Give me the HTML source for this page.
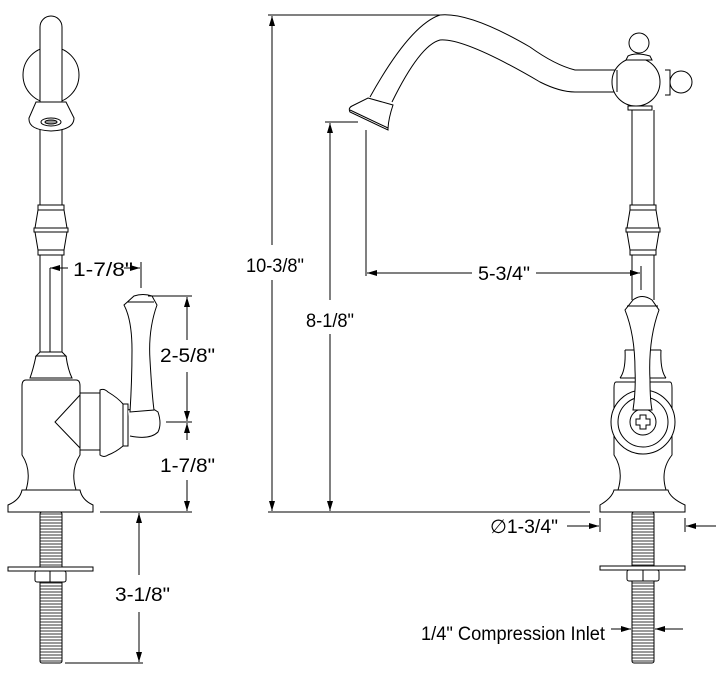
<!DOCTYPE html>
<html><head><meta charset="utf-8"><style>
html,body{margin:0;padding:0;background:#fff;}
svg{display:block}
text{font-family:"Liberation Sans",sans-serif;font-size:19px;fill:#000}
</style></head><body>
<svg width="719" height="676" viewBox="0 0 719 676" xmlns="http://www.w3.org/2000/svg">
<defs>
<marker id="a" viewBox="0 0 10 6" refX="10" refY="3" markerWidth="10" markerHeight="6" orient="auto-start-reverse" markerUnits="userSpaceOnUse"><path d="M0,0 L10,3 L0,6Z" fill="#000"/></marker>
<pattern id="thr" width="4" height="3" patternUnits="userSpaceOnUse"><line x1="0" y1="1" x2="4" y2="1" stroke="#000" stroke-width="0.8"/></pattern>
</defs>
<g fill="none" stroke="#000" stroke-width="1">
<!-- LEFT VIEW -->
<circle cx="51" cy="75" r="28" fill="#fff"/>
<path d="M40,205 V27 A11,11 0 0 1 62,27 V205" fill="#fff"/>
<path d="M36,102 L66,102 L74,118 Q74,130 51,131 Q28,130 29,118 Z" fill="#fff"/>
<ellipse cx="51" cy="122" rx="10" ry="4"/>
<ellipse cx="51" cy="122" rx="6" ry="2" fill="#999"/>
<path d="M38,205 H64 V210 H38Z M38,210 L35,228 H67 L64,210 M34,228 H68 V232 H34Z M35,232 L38,250 H64 L67,232 M38,250 H64 V255 H38Z"/>
<path d="M40,255 V352 M62,255 V352 M50,268 V352"/>
<path d="M40,352 H62 L66,356 H36 Z M36,356 Q33,370 30,378 H72 Q68,370 66,356"/>
<path d="M26,380 H76 Q80,380 80,386 V455 Q70,470 76,490 H26 Q32,470 22,455 V386 Q22,380 26,380Z" fill="#fff"/>
<path d="M80,395 L55,422 L80,448"/>
<path d="M80,393 H100 V450 H80 M100,390 Q104,388 108,392 Q118,398 123,404 V446 Q116,452 108,455 Q104,458 100,455 Z M123,404 H128 V446 H123"/>
<path d="M22,490 H80 Q82,500 93,505 V512 H8 V505 Q20,500 22,490Z" fill="#fff"/>
<path d="M128,410 Q150,405 158,412 Q162,424 158,432 Q150,440 130,436" fill="#fff"/>
<path d="M134,296 Q143,293 152,296 L157,305 Q148,330 150,360 Q152,395 154,410 L130,412 Q132,380 132,350 Q132,320 124,305 Z" fill="#fff"/>
<path d="M127,302 H154"/>
<rect x="40" y="512" width="22" height="151" rx="2" fill="url(#thr)"/>
<rect x="8" y="567" width="85" height="4" fill="#fff"/>
<rect x="35" y="571" width="31" height="11" rx="2" fill="#fff"/>
<path d="M50,571 V582"/>
</g>
<!-- LEFT DIMENSIONS -->
<g stroke="#000" stroke-width="1" fill="none">
<line x1="68" y1="268" x2="50" y2="268" marker-end="url(#a)"/>
<line x1="124" y1="268" x2="140" y2="268" marker-end="url(#a)"/>
<line x1="141" y1="262" x2="141" y2="288"/>
<line x1="148" y1="296" x2="192" y2="296"/>
<line x1="187" y1="340" x2="187" y2="297" marker-end="url(#a)"/>
<line x1="187" y1="372" x2="187" y2="421" marker-end="url(#a)"/>
<line x1="166" y1="422" x2="192" y2="422"/>
<line x1="187" y1="440" x2="187" y2="423" marker-end="url(#a)"/>
<line x1="187" y1="480" x2="187" y2="511" marker-end="url(#a)"/>
<line x1="100" y1="512" x2="192" y2="512"/>
<line x1="139" y1="575" x2="139" y2="513" marker-end="url(#a)"/>
<line x1="139" y1="612" x2="139" y2="662" marker-end="url(#a)"/>
<line x1="65" y1="663" x2="143" y2="663"/>
</g>
<text x="73" y="276" textLength="60" lengthAdjust="spacingAndGlyphs">1-7/8"</text>
<text x="160" y="362" textLength="55" lengthAdjust="spacingAndGlyphs">2-5/8"</text>
<text x="160" y="472" textLength="55" lengthAdjust="spacingAndGlyphs">1-7/8"</text>
<text x="115" y="601" textLength="55" lengthAdjust="spacingAndGlyphs">3-1/8"</text>
<!-- RIGHT VIEW -->
<g fill="none" stroke="#000" stroke-width="1">
<path d="M370,97 Q410,25 440,15 Q470,12 530,47 Q555,65 575,70 H617"/>
<path d="M392,102 Q420,45 440,40 Q465,38 540,82 Q560,92 575,92 H617"/>
<path d="M368,98 L393,105 Q388,120 388,130 L350,112 Q348,108 352,106Z" fill="#fff"/>
<path d="M350,110 L388,128"/>
<circle cx="636" cy="82" r="24" fill="#fff"/>
<path d="M617,70 V92"/>
<circle cx="639" cy="43" r="10" fill="#fff"/>
<path d="M628,56 Q636,52 650,56 L652,60 H626Z" fill="#fff"/>
<path d="M665,70 H670 V95 H665"/>
<circle cx="681" cy="82" r="11" fill="#fff"/>
<path d="M628,106 H652 V110 H628Z"/>
<path d="M632,110 V205 M654,110 V205"/>
<path d="M630,205 H656 V210 H630Z M630,210 L627,228 H659 L656,210 M626,228 H660 V232 H626Z M627,232 L630,250 H656 L659,232 M630,250 H656 V255 H630Z"/>
<path d="M632,255 V300 M654,255 V300"/>
<path d="M625,350 H661 M625,350 Q626,370 620,378 M661,350 Q660,370 666,378 M620,378 H666"/>
<path d="M616,382 H670 Q672,382 672,388 V455 Q660,470 666,490 H618 Q624,470 614,455 V388 Q614,382 616,382Z" fill="#fff"/>
<circle cx="643" cy="422" r="32" fill="#fff"/>
<circle cx="643" cy="422" r="25"/>
<circle cx="643" cy="422" r="13"/>
<path d="M640,415 H646 V419 H650 V425 H646 V429 H640 V425 H636 V419 H640Z"/>
<path d="M633,300 Q642,293 652,300 L659,310 Q648,340 650,380 Q650,400 652,410 L633,410 Q636,390 635,370 Q635,335 625,310 Z" fill="#fff"/>
<path d="M627,306 H658"/>
<path d="M614,490 H668 Q670,498 685,505 V512 H600 V505 Q612,498 614,490Z" fill="#fff"/>
<rect x="632" y="512" width="22" height="151" rx="2" fill="url(#thr)"/>
<rect x="600" y="566" width="85" height="4" fill="#fff"/>
<rect x="627" y="570" width="32" height="11" rx="2" fill="#fff"/>
<path d="M643,570 V581"/>
</g>
<!-- RIGHT DIMENSIONS -->
<g stroke="#000" stroke-width="1" fill="none">
<line x1="268" y1="15" x2="440" y2="15"/>
<line x1="272" y1="245" x2="272" y2="16" marker-end="url(#a)"/>
<line x1="272" y1="280" x2="272" y2="511" marker-end="url(#a)"/>
<line x1="325" y1="122" x2="358" y2="122"/>
<line x1="330" y1="300" x2="330" y2="123" marker-end="url(#a)"/>
<line x1="330" y1="334" x2="330" y2="511" marker-end="url(#a)"/>
<line x1="268" y1="512" x2="590" y2="512"/>
<line x1="366" y1="130" x2="366" y2="276"/>
<line x1="472" y1="273" x2="367" y2="273" marker-end="url(#a)"/>
<line x1="536" y1="273" x2="640" y2="273" marker-end="url(#a)"/>
<line x1="641" y1="266" x2="641" y2="290"/>
<line x1="567" y1="526" x2="599" y2="526" marker-end="url(#a)"/>
<line x1="600" y1="518" x2="600" y2="532"/>
<line x1="716" y1="526" x2="686" y2="526" marker-end="url(#a)"/>
<line x1="685" y1="518" x2="685" y2="532"/>
<line x1="611" y1="629" x2="631" y2="629" marker-end="url(#a)"/>
<line x1="683" y1="629" x2="655" y2="629" marker-end="url(#a)"/>
</g>
<text x="246" y="272" textLength="58" lengthAdjust="spacingAndGlyphs">10-3/8"</text>
<text x="306" y="327" textLength="48" lengthAdjust="spacingAndGlyphs">8-1/8"</text>
<text x="478" y="280" textLength="52" lengthAdjust="spacingAndGlyphs">5-3/4"</text>
<text x="490" y="533" textLength="68" lengthAdjust="spacingAndGlyphs">∅1-3/4"</text>
<text x="421" y="640" textLength="184" lengthAdjust="spacingAndGlyphs">1/4" Compression Inlet</text>
</svg>
</body></html>
